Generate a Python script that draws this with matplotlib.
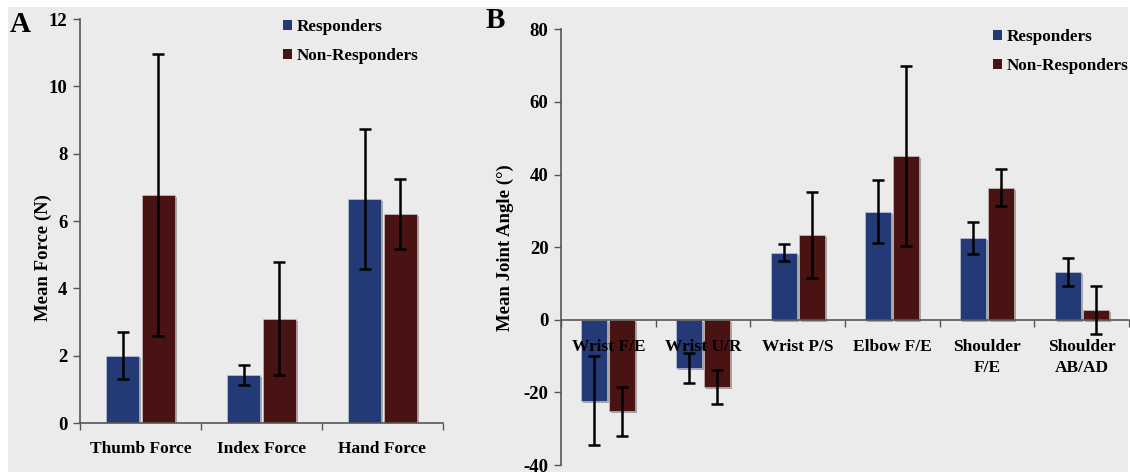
import matplotlib
matplotlib.use("Agg")
import matplotlib.pyplot as plt
import matplotlib.patches as mpatches
import matplotlib.patheffects as pe
import numpy as np

plt.rcParams['font.family'] = ['Liberation Serif', 'DejaVu Serif']
plt.rcParams['font.weight'] = 'bold'

# ---- Data ----
cats_A = ['Thumb Force', 'Index Force', 'Hand Force']
resp_A = [2.0, 1.42, 6.65]
resp_A_err = [0.7, 0.3, 2.07]
non_A = [6.77, 3.1, 6.2]
non_A_err = [4.2, 1.67, 1.04]

cats_B = ['Wrist F/E', 'Wrist U/R', 'Wrist P/S', 'Elbow F/E', 'Shoulder\nF/E', 'Shoulder\nAB/AD']
resp_B = [-22.3, -13.3, 18.4, 29.8, 22.6, 13.2]
resp_B_err = [12.3, 4.1, 2.35, 8.7, 4.4, 3.9]
non_B = [-25.2, -18.6, 23.4, 45.1, 36.4, 2.8]
non_B_err = [6.8, 4.7, 11.9, 24.9, 5.1, 6.6]

series_names = ['Responders', 'Non-Responders']
BLUE = '#233a76'
RED = '#4a1313'
BG = '#ebebeb'

W, H = 1130, 474
fig = plt.figure(figsize=(W / 100, H / 100), dpi=100, facecolor='white')
fig.patches.append(mpatches.Rectangle((8 / W, 1 - 472 / H), (1128 - 8) / W, (472 - 7) / H,
                                      transform=fig.transFigure, facecolor=BG,
                                      edgecolor='none', zorder=-10))

def px_axes(l, r, t, b):
    return fig.add_axes([l / W, 1 - b / H, (r - l) / W, (b - t) / H])

shadow = [pe.SimplePatchShadow(offset=(1.5, -1.5), shadow_rgbFace='#777777', alpha=0.6), pe.Normal()]

def draw(ax, cats, r, re, n, ne, ylim, yticks, ylabel, ylabel_xy, xpad, zero_spine=False):
    x = np.arange(len(cats))
    bw = 0.275
    gap = 0.01
    b1 = ax.bar(x - bw / 2 - gap, r, bw, color=BLUE, edgecolor='#c9d0e0', linewidth=0.4, zorder=2)
    b2 = ax.bar(x + bw / 2 + gap, n, bw, color=RED, edgecolor='#d8c8c8', linewidth=0.4, zorder=2)
    for b in list(b1) + list(b2):
        b.set_path_effects(shadow)
    ax.errorbar(x - bw / 2 - gap, r, yerr=re, fmt='none', ecolor='black', elinewidth=1.8,
                capsize=4, capthick=1.8, zorder=4)
    ax.errorbar(x + bw / 2 + gap, n, yerr=ne, fmt='none', ecolor='black', elinewidth=1.8,
                capsize=4, capthick=1.8, zorder=4)
    for s in ['top', 'right']:
        ax.spines[s].set_visible(False)
    for s in ['left', 'bottom']:
        ax.spines[s].set_color('#555555')
        ax.spines[s].set_linewidth(1.2)
    if zero_spine:
        ax.spines['bottom'].set_position(('data', 0))
    ax.set_axisbelow(False)
    ax.set_xlim(-0.5, len(cats) - 0.5)
    ax.set_ylim(*ylim)
    ax.set_yticks(yticks)
    ax.set_yticklabels([str(v) for v in yticks])
    ax.set_xticks(np.arange(len(cats) + 1) - 0.5)
    ax.set_xticklabels([])
    ax.set_xticks(x, minor=True)
    ax.set_xticklabels(cats, minor=True, fontsize=12.5, fontweight='bold', linespacing=1.45)
    ax.tick_params(axis='x', which='minor', length=0, pad=xpad)
    ax.tick_params(axis='x', which='major', length=5, width=1, color='#555555', direction='out')
    ax.tick_params(axis='y', length=5, width=1, color='#555555', direction='out', labelsize=13.5, pad=4)
    ax.set_facecolor('none')
    ax.set_ylabel(ylabel, fontsize=13.5, fontweight='bold')
    ax.yaxis.set_label_coords(*ylabel_xy)
    return b1, b2

axA = px_axes(80, 443, 19, 423)
draw(axA, cats_A, resp_A, resp_A_err, non_A, non_A_err, (0, 12), [0, 2, 4, 6, 8, 10, 12],
     'Mean Force (N)', (-0.078, 0.41), 13)

axB = px_axes(561, 1129, 29.3, 465)
draw(axB, cats_B, resp_B, resp_B_err, non_B, non_B_err, (-40, 80), [-40, -20, 0, 20, 40, 60, 80],
     'Mean Joint Angle (°)', (-0.082, 0.5), 13.5, zero_spine=True)

def add_legend(xpx, ypx):
    handles = [mpatches.Patch(facecolor=BLUE, edgecolor='none'),
               mpatches.Patch(facecolor=RED, edgecolor='none')]
    leg = fig.legend(handles, series_names, loc='upper left',
                     bbox_to_anchor=(xpx / W, 1 - ypx / H), frameon=False,
                     handlelength=0.55, handleheight=0.55, handletextpad=0.25,
                     labelspacing=0.75, borderpad=0, borderaxespad=0,
                     prop={'family': 'Liberation Serif', 'weight': 'bold', 'size': 12.3})
    return leg

add_legend(283, 19)
add_legend(993, 29)

fig.text(10 / W, 1 - 24 / H, 'A', fontsize=21, fontweight='bold', va='center', ha='left')
fig.text(486 / W, 1 - 21 / H, 'B', fontsize=21, fontweight='bold', va='center', ha='left')

fig.savefig('out.png', dpi=100, facecolor='white')
